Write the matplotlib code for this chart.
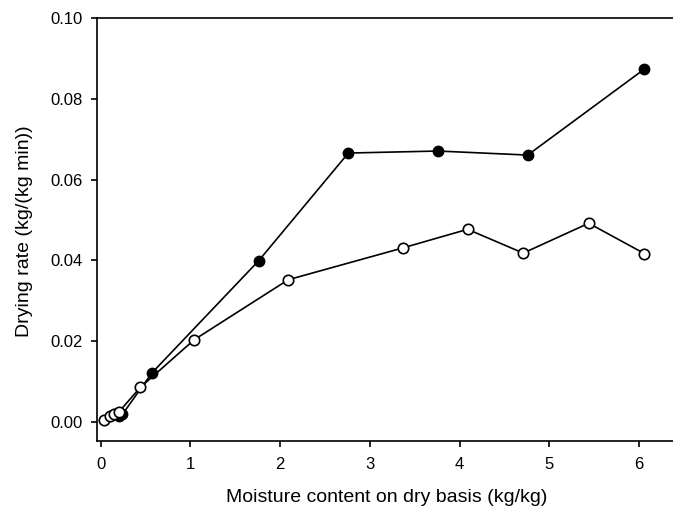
import matplotlib
matplotlib.use("Agg")
import matplotlib.pyplot as plt

plt.rcParams['font.family'] = ['Liberation Sans', 'DejaVu Sans']

# Filled circles series
x_filled = [0.20, 0.24, 0.57, 1.76, 2.76, 3.76, 4.76, 6.06]
y_filled = [0.0015, 0.0018, 0.0121, 0.0399, 0.0666, 0.0671, 0.0661, 0.0874]

# Open circles series
x_open = [0.04, 0.10, 0.15, 0.20, 0.44, 1.04, 2.09, 3.37, 4.09, 4.71, 5.44, 6.06]
y_open = [0.0004, 0.0015, 0.0020, 0.0024, 0.0085, 0.0203, 0.0352, 0.0431, 0.0477, 0.0418, 0.0492, 0.0417]

x_ticks = [0, 1, 2, 3, 4, 5, 6]
y_ticks = [0.00, 0.02, 0.04, 0.06, 0.08, 0.10]
x_label = "Moisture content on dry basis (kg/kg)"
y_label = "Drying rate (kg/(kg min))"

fig = plt.figure(figsize=(6.73, 5.14), dpi=100)
W, H = 673, 514
left, right, top, bottom = 96.5, 673, 18.3, 440.7
ax = fig.add_axes([left / W, (H - bottom) / H, (right - left) / W, (bottom - top) / H])

ax.plot(x_filled, y_filled, '-o', color='black', lw=1.2, ms=7.5,
        mfc='black', mec='black', zorder=3)
ax.plot(x_open, y_open, '-o', color='black', lw=1.2, ms=7.5,
        mfc='white', mec='black', mew=1.2, zorder=3)

ax.set_xlim(-0.048, 6.38)
ax.set_ylim(-0.0047, 0.1)
ax.set_xticks(x_ticks)
ax.set_xticklabels([str(t) for t in x_ticks])
ax.set_yticks(y_ticks)
ax.set_yticklabels([f"{t:.2f}" for t in y_ticks])

ax.spines['right'].set_visible(False)
for s in ['left', 'bottom', 'top']:
    ax.spines[s].set_linewidth(1.2)

ax.tick_params(axis='x', direction='out', length=4, width=1.2, pad=8, labelsize=12)
ax.tick_params(axis='y', direction='out', length=4.5, width=1.2, pad=5.5, labelsize=12)

ax.set_xlabel(x_label, fontsize=14)
ax.set_ylabel(y_label, fontsize=14)
ax.xaxis.set_label_coords((386.5 - left) / (right - left), -(498 - bottom) / (bottom - top))
ax.yaxis.set_label_coords(-(left - 25) / (right - left), (bottom - 231) / (bottom - top))
ax.xaxis.label.set_va('center')
ax.yaxis.label.set_va('center')

fig.savefig("out.png", dpi=100)
